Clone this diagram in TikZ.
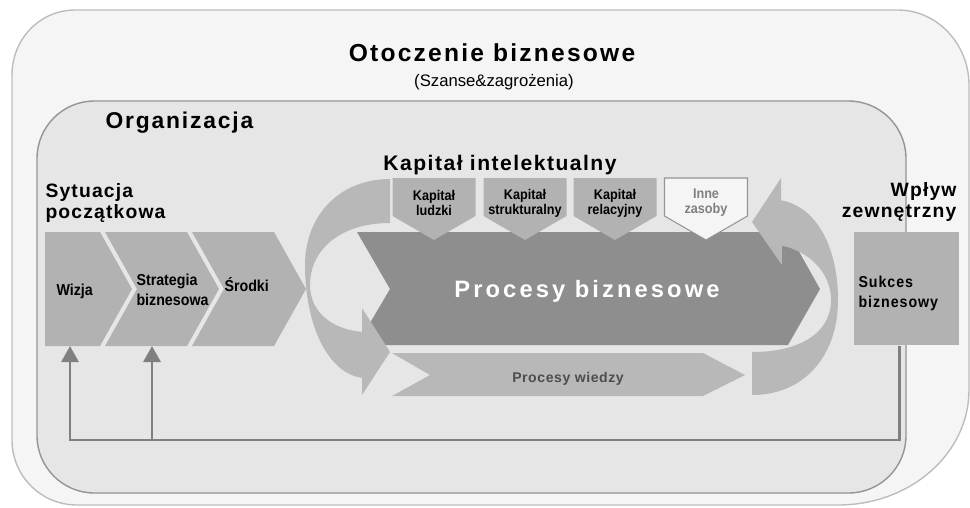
\documentclass[tikz,border=0pt]{standalone}
\usepackage{fontspec}
\setmainfont{Liberation Sans}
\newfontfamily\headfont{Liberation Sans}
\newfontfamily\narrowfont[FakeStretch=0.9]{Liberation Sans}
\usetikzlibrary{arrows.meta, positioning, calc}
\definecolor{cenv}{HTML}{F5F5F5}
\definecolor{cenvline}{HTML}{BDBDBD}
\definecolor{corg}{HTML}{E6E6E6}
\definecolor{corgline}{HTML}{959595}
\definecolor{cchev}{HTML}{B2B2B2}
\definecolor{cproc}{HTML}{8E8E8E}
\definecolor{cloop}{HTML}{B8B8B8}
\definecolor{cfb}{HTML}{808080}
\definecolor{ctext}{HTML}{4D4D4D}
\tikzset{
  every picture/.style={line width=0.6pt},
  envbox/.style={draw=cenvline, fill=cenv, line width=0.8pt},
  orgbox/.style={draw=corgline, fill=corg, line width=0.8pt, rounded corners=1.15cm},
  chev/.style={fill=cchev},
  capbox/.style={fill=cchev},
  otherbox/.style={draw=corgline, fill=cenv, line width=0.6pt},
  procbig/.style={fill=cproc},
  loopband/.style={fill=cloop},
  fbline/.style={draw=cfb, line width=1.7pt, -{Triangle[width=0.34cm, length=0.32cm]}},
  title/.style={font=\headfont\bfseries\fontsize{14}{16}\selectfont\addfontfeature{LetterSpace=9}, inner sep=0pt},
  orgtitle/.style={font=\headfont\bfseries\fontsize{13}{15}\selectfont\addfontfeature{LetterSpace=8}, inner sep=0pt},
  head/.style={font=\headfont\bfseries\fontsize{12}{14}\selectfont\addfontfeature{LetterSpace=7}, inner sep=0pt},
  sidehead/.style={font=\headfont\bfseries\fontsize{11}{12}\selectfont\addfontfeature{LetterSpace=6}, inner sep=0pt},
  bigtitle/.style={font=\headfont\bfseries\fontsize{13.5}{15}\selectfont\addfontfeature{LetterSpace=13}, text=white, inner sep=0pt},
  knowtitle/.style={font=\headfont\bfseries\fontsize{8}{10}\selectfont\addfontfeature{LetterSpace=4}, text=ctext, inner sep=0pt},
  sub/.style={font=\fontsize{9.5}{11}\selectfont, inner sep=0pt},
  lbl/.style={font=\narrowfont\bfseries\fontsize{9}{11.3}\selectfont, align=left, inner sep=0pt},
  spacedlbl/.style={font=\narrowfont\bfseries\fontsize{9}{11.3}\selectfont\addfontfeature{LetterSpace=6}, align=left, inner sep=0pt},
  caplbl/.style={font=\narrowfont\bfseries\fontsize{8}{8.5}\selectfont, align=center, inner sep=0pt},
}
\begin{document}
\begin{tikzpicture}[x=0.02cm, y=-0.02cm]
  \useasboundingbox (0,0) rectangle (970,507);
  % business environment
  \draw[envbox] (12,75) -- (12,440) .. controls (12,476) and (41,505) .. (77,505) -- (838,505)
    .. controls (911,505) and (969,453) .. (969,390) -- (969,85)
    .. controls (969,44) and (937,10) .. (898,10) -- (75,10)
    .. controls (40,10) and (12,39) .. (12,75) -- cycle;
  \node[title, anchor=base] (env) at (492,61) {Otoczenie biznesowe};
  \node[sub, anchor=base] (chances) at (494,86) {(Szanse\&zagrożenia)};
  % organisation
  \draw[orgbox] (37,101) rectangle (906,493);
  \node[orgtitle, anchor=base west] (org) at (105,128) {Organizacja};
  \node[head, anchor=base] (ic) at (500,170) {Kapitał intelektualny};
  \node[sidehead, anchor=north west, align=left] (start) at (45,183) {Sytuacja\\początkowa};
  \node[sidehead, anchor=north east, align=right] (impact) at (957,182) {Wpływ\\zewnętrzny};
  % business processes
  \fill[procbig] (357,232) -- (788,232) -- (820,289) -- (788,345) -- (357,345) -- (390,289) -- cycle;
  \node[bigtitle, anchor=base] (pbiz) at (587,297) {Procesy biznesowe};
  \foreach \cx/\nm/\txt in {434/ludzki/{Kapitał\\ludzki}, 525/strukt/{Kapitał\\strukturalny}, 615/relac/{Kapitał\\relacyjny}} {
    \fill[capbox] (\cx-41.5,178) -- (\cx+41.5,178) -- (\cx+41.5,216) -- (\cx,240) -- (\cx-41.5,216) -- cycle;
    \node[caplbl] (\nm) at (\cx,203) {\txt};
  }
  \draw[otherbox] (664.5,178) -- (747.5,178) -- (747.5,216) -- (706,240) -- (664.5,216) -- cycle;
  \node[caplbl, text=cfb] (inne) at (706,203) {Inne\\zasoby};
  % knowledge processes
  \fill[loopband] (392,353) -- (703,353) -- (745,375) -- (703,396) -- (392,396) -- (430,375) -- cycle;
  \node[knowtitle, anchor=base] (pwiedzy) at (568,382) {Procesy wiedzy};
  % loops
  \fill[loopband] (390,179) .. controls (340,179) and (305,215) .. (305,265)
    .. controls (305,325) and (328,375) .. (364,378) -- (364,332)
    .. controls (332,330) and (310,312) .. (310,285)
    .. controls (310,250) and (340,223) .. (390,223) -- cycle;
  \fill[loopband] (362,308) -- (390,352) -- (362,395) -- cycle;
  \fill[loopband] (752,395) .. controls (805,395) and (838,355) .. (838,300)
    .. controls (838,245) and (815,205) .. (779,200) -- (779,245)
    .. controls (808,250) and (831,272) .. (831,300)
    .. controls (831,333) and (800,352) .. (752,352) -- cycle;
  \fill[loopband] (781,178) -- (752,222) -- (782,265) -- cycle;
  % starting chain
  \fill[chev] (45,232) -- (100,232) -- (132,289) -- (100,346) -- (45,346) -- cycle;
  \foreach \x in {105,192}
    \fill[chev] (\x,232) -- ++(82,0) -- ++(32,57) -- ++(-32,57) -- ++(-82,0) -- ++(32,-57) -- cycle;
  \node[lbl, anchor=base west] (wizja) at (56,295) {Wizja};
  \node[lbl, anchor=north west] (strat) at (136,274) {Strategia\\biznesowa};
  \node[lbl, anchor=base west] (srodki) at (224,291) {Środki};
  % business success
  \node[fill=cchev, minimum width=2.1cm, minimum height=2.26cm, inner sep=0pt] (sukces) at (906.5,288.5) {};
  \node[spacedlbl, anchor=north west] (sukcestxt) at (858,276) {Sukces\\biznesowy};
  % feedback
  \coordinate (loopL) at (70,440);
  \coordinate (loopM) at (152,440);
  \coordinate (loopR) at (899,440);
  \coordinate (chevbot) at (45,346);
  \draw[fbline] (loopR |- sukces.south) -- (loopR) -- (loopL) -- (loopL |- chevbot);
  \draw[fbline] (loopM) -- (loopM |- chevbot);
\end{tikzpicture}
\end{document}
